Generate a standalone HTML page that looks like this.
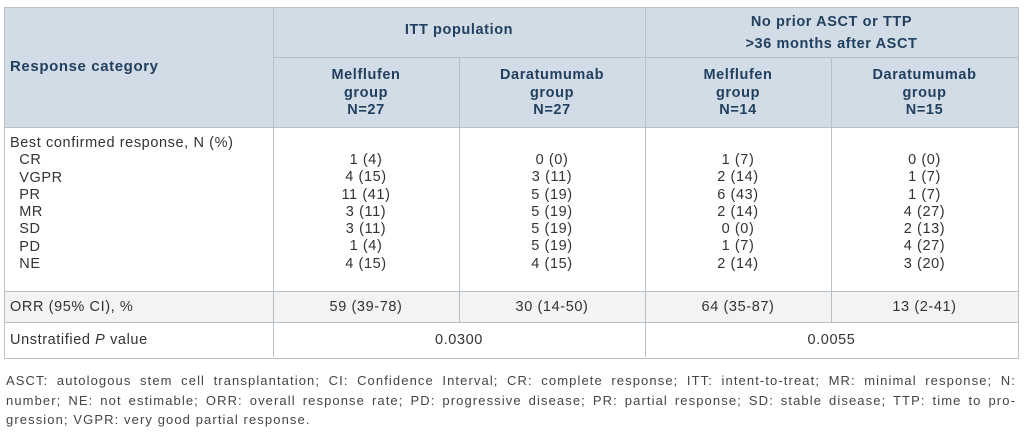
<!DOCTYPE html>
<html><head><style>
body{margin:0;background:#fff;width:1024px;height:432px;overflow:hidden;font-family:"Liberation Sans",sans-serif;}
.a{position:absolute;}
.h{position:absolute;color:#22405f;font-weight:bold;font-size:14.5px;letter-spacing:0.6px;text-align:center;line-height:17.5px;}
.t{position:absolute;color:#333;font-size:14.5px;letter-spacing:0.6px;line-height:17.3px;text-align:center;}
.v{position:absolute;background:#b8c0c8;width:1px;}
.hz{position:absolute;background:#b8c0c8;height:1px;}
.f{position:absolute;left:6px;width:1010px;font-size:13px;color:#444;letter-spacing:1.1px;text-align:justify;text-align-last:justify;white-space:nowrap;}
</style></head><body>
<div class="a" style="left:4px;top:7px;width:1014px;height:120px;background:#d2dce6;"></div>
<div class="a" style="left:4px;top:291px;width:1014px;height:31px;background:#f3f3f3;"></div>
<div class="a" style="left:4px;top:7px;width:1013px;height:350px;border:1px solid #b8c0c8;"></div>
<div class="hz" style="left:273px;top:57px;width:745px;"></div>
<div class="hz" style="left:4px;top:127px;width:1014px;"></div>
<div class="hz" style="left:4px;top:291px;width:1014px;"></div>
<div class="hz" style="left:4px;top:322px;width:1014px;"></div>
<div class="v" style="left:273px;top:7px;height:350px;"></div>
<div class="v" style="left:645px;top:7px;height:350px;"></div>
<div class="v" style="left:459px;top:57px;height:265px;"></div>
<div class="v" style="left:831px;top:57px;height:265px;"></div>
<div class="h" style="left:10px;top:58px;text-align:left;font-size:15px;">Response category</div>
<div class="h" style="left:273px;width:372px;top:22px;">ITT population</div>
<div class="h" style="left:645px;width:373px;top:11px;line-height:22px;">No prior ASCT or TTP<br>&gt;36 months after ASCT</div>
<div class="h" style="left:273px;width:186px;top:67px;">Melflufen<br>group<br>N=27</div>
<div class="h" style="left:459px;width:186px;top:67px;">Daratumumab<br>group<br>N=27</div>
<div class="h" style="left:645px;width:186px;top:67px;">Melflufen<br>group<br>N=14</div>
<div class="h" style="left:831px;width:187px;top:67px;">Daratumumab<br>group<br>N=15</div>
<div class="t" style="left:10px;top:135px;text-align:left;">Best confirmed response, N (%)<br>&nbsp;&nbsp;CR<br>&nbsp;&nbsp;VGPR<br>&nbsp;&nbsp;PR<br>&nbsp;&nbsp;MR<br>&nbsp;&nbsp;SD<br>&nbsp;&nbsp;PD<br>&nbsp;&nbsp;NE</div>
<div class="t" style="left:273px;width:186px;top:152px;">1 (4)<br>4 (15)<br>11 (41)<br>3 (11)<br>3 (11)<br>1 (4)<br>4 (15)</div>
<div class="t" style="left:459px;width:186px;top:152px;">0 (0)<br>3 (11)<br>5 (19)<br>5 (19)<br>5 (19)<br>5 (19)<br>4 (15)</div>
<div class="t" style="left:645px;width:186px;top:152px;">1 (7)<br>2 (14)<br>6 (43)<br>2 (14)<br>0 (0)<br>1 (7)<br>2 (14)</div>
<div class="t" style="left:831px;width:187px;top:152px;">0 (0)<br>1 (7)<br>1 (7)<br>4 (27)<br>2 (13)<br>4 (27)<br>3 (20)</div>
<div class="t" style="left:10px;top:299px;text-align:left;">ORR (95% CI), %</div>
<div class="t" style="left:273px;width:186px;top:299px;">59 (39-78)</div>
<div class="t" style="left:459px;width:186px;top:299px;">30 (14-50)</div>
<div class="t" style="left:645px;width:186px;top:299px;">64 (35-87)</div>
<div class="t" style="left:831px;width:187px;top:299px;">13 (2-41)</div>
<div class="t" style="left:10px;top:332px;text-align:left;">Unstratified <i>P</i> value</div>
<div class="t" style="left:273px;width:372px;top:332px;">0.0300</div>
<div class="t" style="left:645px;width:373px;top:332px;">0.0055</div>
<div class="f" style="top:373px;">ASCT: autologous stem cell transplantation; CI: Confidence Interval; CR: complete response; ITT: intent-to-treat; MR: minimal response; N:</div>
<div class="f" style="top:393px;">number; NE: not estimable; ORR: overall response rate; PD: progressive disease; PR: partial response; SD: stable disease; TTP: time to pro-</div>
<div class="a" style="left:6px;top:412px;font-size:13px;color:#444;letter-spacing:1.1px;">gression; VGPR: very good partial response.</div>
</body></html>
